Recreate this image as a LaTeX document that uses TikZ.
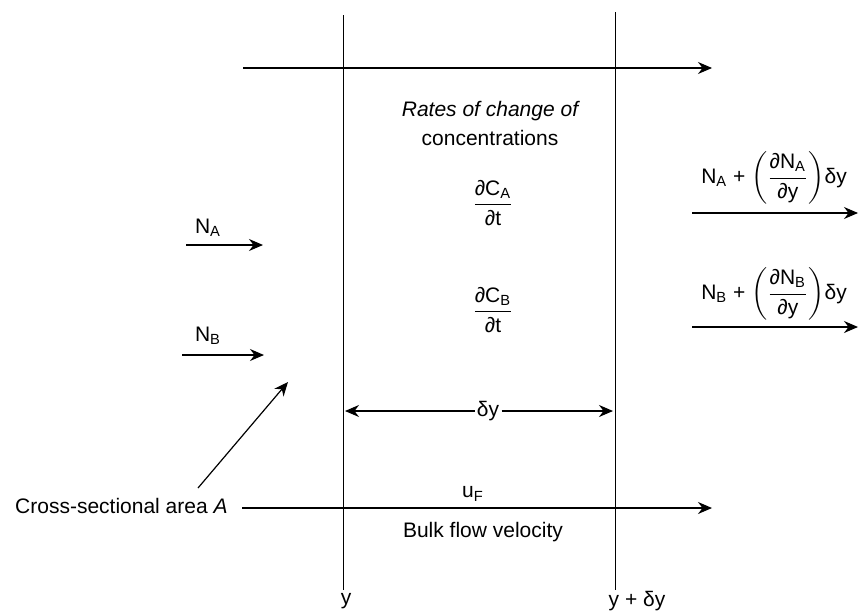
\documentclass[tikz,border=0pt]{standalone}
\usepackage{amsmath}
\usepackage{fontspec}
\setmainfont{Liberation Sans}
\usetikzlibrary{arrows.meta,positioning}

\newcommand{\sub}[1]{\textsubscript{#1}}

\begin{document}
\begin{tikzpicture}[x=0.5pt,y=-0.5pt,
    flow/.style={-{Stealth[length=7pt,width=6pt]}, line width=0.6pt},
    plane/.style={line width=0.5pt},
    lbl/.style={font=\fontsize{10.5}{12}\selectfont, inner sep=1pt}]
    \useasboundingbox (0,0) rectangle (861,611);
    % the two planes at y and y + dy
    \coordinate (ytop) at (343,15);
    \coordinate (ybot) at (343,590);
    \coordinate (dytop) at (615,12);
    \coordinate (dybot) at (615,590);
    \draw[plane] (ytop) -- (ybot);
    \draw[plane] (dytop) -- (dybot);
    \node[lbl] (yleft) at (346,601) {y};
    \node[lbl] (yright) at (637,601) {y + δy};
    % top arrow
    \coordinate (topin) at (243,68);
    \coordinate (topout) at (712,68);
    \draw[flow] (topin) -- (topout);
    % rates of change
    \node[lbl, font=\fontsize{10.5}{12}\selectfont\itshape] (rates) at (490,111) {Rates of change of};
    \node[lbl] (conc) at (490,138) {concentrations};
    \node[lbl] (dCA) at (493,203) {$\dfrac{\text{∂C\sub{A}}}{\text{∂t}}$};
    \node[lbl] (dCB) at (493,310) {$\dfrac{\text{∂C\sub{B}}}{\text{∂t}}$};
    % fluxes in
    \node[lbl] (NA) at (208,228) {N\sub{A}};
    \coordinate (NAin) at (186,245);
    \coordinate (NAout) at (263,245);
    \draw[flow] (NAin) -- (NAout);
    \node[lbl] (NB) at (208,336) {N\sub{B}};
    \coordinate (NBin) at (182,355);
    \coordinate (NBout) at (264,355);
    \draw[flow] (NBin) -- (NBout);
    % fluxes out
    \node[lbl] (NAy) at (774,178) {N\sub{A} + $\left(\dfrac{\text{∂N\sub{A}}}{\text{∂y}}\right)$δy};
    \coordinate (NAyin) at (692,213);
    \coordinate (NAyout) at (858,213);
    \draw[flow] (NAyin) -- (NAyout);
    \node[lbl] (NBy) at (774,294) {N\sub{B} + $\left(\dfrac{\text{∂N\sub{B}}}{\text{∂y}}\right)$δy};
    \coordinate (NByin) at (692,327);
    \coordinate (NByout) at (858,327);
    \draw[flow] (NByin) -- (NByout);
    % element width
    \node[lbl, fill=white] (dy) at (488,411) {δy};
    \coordinate (dyl) at (345,411);
    \coordinate (dyr) at (613,411);
    \draw[flow] (dy) -- (dyl);
    \draw[flow] (dy) -- (dyr);
    % cross-section and bulk flow
    \node[lbl, anchor=east] (area) at (230,506) {Cross-sectional area \textit{A}};
    \coordinate (areastart) at (198,488);
    \coordinate (areatip) at (288,382);
    \draw[flow] (areastart) -- (areatip);
    \coordinate (bulkout) at (712,508);
    \draw[flow] (area.east |- bulkout) ++(12,0) -- (bulkout);
    \node[lbl] (uF) at (473,494) {u\sub{F}};
    \node[lbl] (bulk) at (483,532) {Bulk flow velocity};
\end{tikzpicture}
\end{document}
